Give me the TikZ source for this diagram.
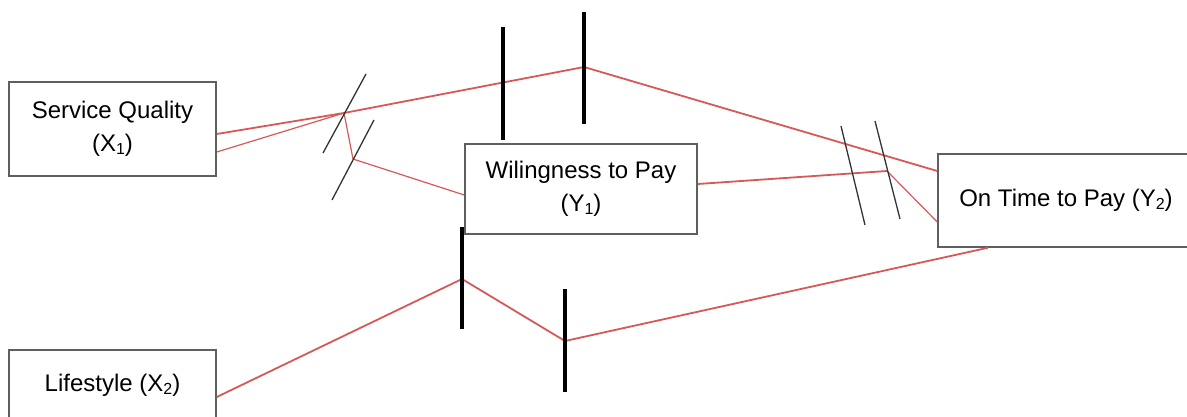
\documentclass[tikz,border=0pt]{standalone}
\usepackage{fontspec}
\setmainfont{Liberation Sans}
\definecolor{linkred}{RGB}{214,88,88}
\definecolor{boxgray}{RGB}{95,95,95}
\newcommand{\mysub}[1]{\raisebox{-3pt}{\fontsize{16}{16}\selectfont #1}}
\begin{document}
\begin{tikzpicture}[x=1pt,y=-1pt,
  box/.style={draw=boxgray, line width=1.5pt, fill=white, inner sep=0pt, align=center,
              font=\fontsize{24}{33}\selectfont},
  link/.style={draw=linkred, line width=1.8pt},
  thinlink/.style={draw=linkred, line width=1.2pt},
  bar/.style={draw=black, line width=3.5pt},
  slash/.style={draw=black!80, line width=1.3pt}]
\useasboundingbox (0,0) rectangle (1187,417);

% boxes
\node[box, minimum width=207pt, minimum height=94pt] (X1) at (112.5,129) {Service Quality\\(X\mysub{1})};
\node[box, minimum width=232pt, minimum height=90pt] (Y1) at (581,189) {Wilingness to Pay\\(Y\mysub{1})};
\node[box, minimum width=256pt, minimum height=93pt] (Y2) at (1066,200.5) {On Time to Pay (Y\mysub{2})};
\node[box, minimum width=207pt, minimum height=70pt] (X2) at (112.5,385) {Lifestyle (X\mysub{2})};

% junctions
\coordinate (J1) at (344,113);
\coordinate (J2) at (353,159);
\coordinate (P1) at (584,67);
\coordinate (J3) at (887,171);
\coordinate (P3) at (462,279);
\coordinate (P4) at (565,341);

% connectors
\draw[link] ([yshift=-5pt]X1.east) -- (J1) -- (P1) -- ([yshift=29.5pt]Y2.west);
\draw[thinlink] ([yshift=-23pt]X1.east) -- (J1);
\draw[thinlink] (J1) -- (J2) -- ([yshift=-6pt]Y1.west);
\draw[link] ([yshift=5pt]Y1.east) -- (J3);
\draw[thinlink] (J3) -- ([yshift=-21.5pt]Y2.west);
\draw[link] ([yshift=-12pt]X2.east) -- (P3) -- (P4) -- ([xshift=-78pt]Y2.south);

% cut marks
\draw[slash] (323,153) -- (366,74);
\draw[slash] (332,200) -- (374,120);
\draw[slash] (841,126) -- (865,225);
\draw[slash] (875,121) -- (900,219);
\draw[bar] (503,27) -- (503,140);
\draw[bar] (584,12) -- (584,124);
\draw[bar] (462,227) -- (462,329);
\draw[bar] (565,289) -- (565,392);
\end{tikzpicture}
\end{document}
